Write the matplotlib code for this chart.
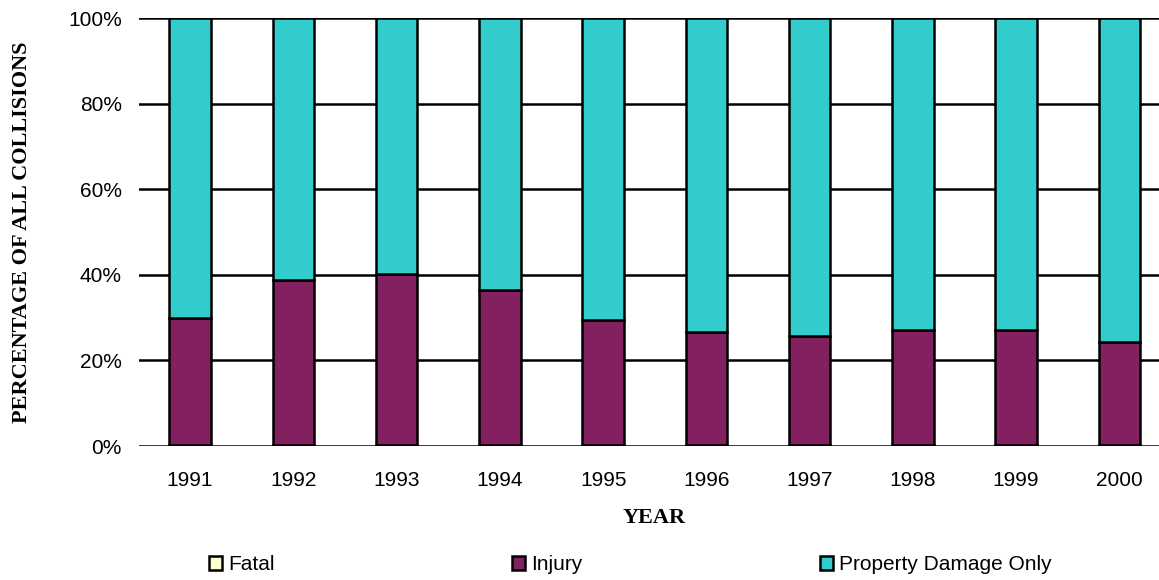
import matplotlib
matplotlib.use("Agg")
import matplotlib.pyplot as plt
import numpy as np

years = ["1991", "1992", "1993", "1994", "1995", "1996", "1997", "1998", "1999", "2000"]
fatal = [0.3, 0.3, 0.3, 0.3, 0.3, 0.3, 0.3, 0.3, 0.3, 0.3]
injury = [29.6, 38.5, 39.9, 36.1, 29.1, 26.3, 25.4, 26.8, 26.8, 24.0]
property_only = [100 - f - i for f, i in zip(fatal, injury)]
series_names = ["Fatal", "Injury", "Property Damage Only"]
colors = ["#FFFFCC", "#822060", "#33CCCC"]

W, H = 1159, 580
fig = plt.figure(figsize=(W / 100, H / 100), dpi=100)
ax = fig.add_axes([138.5 / W, (H - 446) / H, (1171 - 138.5) / W, 428 / H])

x = np.arange(len(years))
bw = 0.4
bottom = np.zeros(len(years))
handles = []
for name, vals, c in zip(series_names, [fatal, injury, property_only], colors):
    b = ax.bar(x, vals, bw, bottom=bottom, color=c, edgecolor="black", linewidth=1.8, label=name, zorder=3)
    bottom += np.array(vals)
    handles.append(b)

ax.set_xlim(-0.5, 9.5)
ax.set_ylim(0, 100)
ax.set_yticks(np.arange(0, 101, 20))
ax.set_yticklabels([f"{v}%" for v in range(0, 101, 20)], fontfamily="Liberation Sans", fontsize=15)
ax.set_xticks(x)
ax.set_xticklabels(years, fontfamily="Liberation Sans", fontsize=15)
ax.tick_params(axis="both", length=0)
ax.tick_params(axis="y", pad=12)
ax.tick_params(axis="x", pad=18)
ax.yaxis.grid(True, color="black", linewidth=1.8, zorder=0)
ax.set_axisbelow(True)
for s in ax.spines.values():
    s.set_visible(False)

fig.text(654 / W, 1 - 518 / H, "YEAR", fontfamily="Liberation Serif", fontweight="bold",
         fontsize=16, ha="center", va="center")
fig.text(22 / W, 1 - 232 / H, "PERCENTAGE OF ALL COLLISIONS", fontfamily="Liberation Serif",
         fontweight="bold", fontsize=16, ha="center", va="center", rotation=90)

leg = fig.legend(handles, series_names, loc="center left", bbox_to_anchor=(209 / W, 1 - 565 / H),
                 ncol=3, frameon=False, prop={"family": "Liberation Sans", "size": 15},
                 handlelength=0.62, handleheight=0.62, handletextpad=0.3, columnspacing=11.4,
                 borderpad=0, borderaxespad=0)
for p in leg.get_patches():
    p.set_linewidth(1.8)

fig.savefig("out.png", dpi=100)
